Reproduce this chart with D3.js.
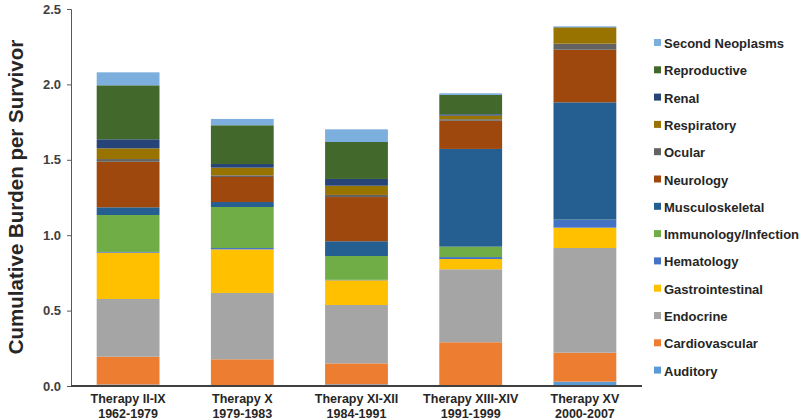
<!DOCTYPE html>
<html><head><meta charset="utf-8">
<script src="https://cdn.jsdelivr.net/npm/d3@7"></script>
<style>body{margin:0;background:#fff;} text{font-family:"Liberation Sans",Arial,sans-serif;font-weight:bold;}</style>
</head><body>
<svg id="c" width="800" height="420"></svg>
<script>
const therapies = ["Therapy II-IX|1962-1979","Therapy X|1979-1983","Therapy XI-XII|1984-1991","Therapy XIII-XIV|1991-1999","Therapy XV|2000-2007"];
const categories = ["Auditory","Cardiovascular","Endocrine","Gastrointestinal","Hematology","Immunology/Infection","Musculoskeletal","Neurology","Ocular","Respiratory","Renal","Reproductive","Second Neoplasms"];
const auditory        = [0.010, 0.003, 0.011, 0.002, 0.029];
const cardiovascular  = [0.184, 0.174, 0.139, 0.288, 0.192];
const endocrine       = [0.383, 0.440, 0.387, 0.484, 0.694];
const gastrointestinal= [0.307, 0.289, 0.164, 0.068, 0.135];
const hematology      = [0.005, 0.009, 0.003, 0.013, 0.051];
const immunology      = [0.245, 0.272, 0.158, 0.069, 0.002];
const musculoskeletal = [0.051, 0.033, 0.098, 0.648, 0.778];
const neurology       = [0.302, 0.166, 0.293, 0.187, 0.349];
const ocular          = [0.018, 0.011, 0.014, 0.010, 0.040];
const respiratory     = [0.071, 0.051, 0.061, 0.024, 0.106];
const renal           = [0.060, 0.024, 0.045, 0.009, 0.002];
const reproductive    = [0.358, 0.257, 0.245, 0.128, 0.002];
const secondNeoplasms = [0.086, 0.042, 0.084, 0.011, 0.005];
const yTicks = [0, 0.5, 1.0, 1.5, 2.0, 2.5];
const colors = ["#5B9BD5","#ED7D31","#A5A5A5","#FFC000","#4472C4","#70AD47","#255E91","#9E480E","#636363","#997300","#264478","#43682B","#7CAFDD"];

const series = [auditory,cardiovascular,endocrine,gastrointestinal,hematology,immunology,musculoskeletal,neurology,ocular,respiratory,renal,reproductive,secondNeoplasms];
const table = therapies.map((t,i)=>{const o={therapy:t};categories.forEach((c,j)=>o[c]=series[j][i]);return o;});
const stacked = d3.stack().keys(categories)(table);

const svg = d3.select("#c");
const x = d3.scaleBand().domain(therapies).range([71,642]).paddingInner(0.45).paddingOuter(0.225);
const y = d3.scaleLinear().domain([0,2.5]).range([386,9]);
const color = d3.scaleOrdinal().domain(categories).range(colors);

svg.append("g").selectAll("g").data(stacked).join("g").attr("fill",d=>color(d.key))
 .selectAll("rect").data(d=>d).join("rect")
 .attr("x",d=>x(d.data.therapy)).attr("width",x.bandwidth())
 .attr("y",d=>y(d[1])).attr("height",d=>Math.max(0,y(d[0])-y(d[1])));

// y axis
const ya = svg.append("g").attr("transform","translate(71,0)")
 .call(d3.axisLeft(y).tickValues(yTicks).tickFormat(d3.format(".1f")).tickSize(4));
ya.select(".domain").attr("stroke","#595959").attr("stroke-width",1);
ya.selectAll(".tick line").attr("stroke","#595959");
ya.selectAll("text").attr("font-size",13).attr("fill","#404040").attr("dx",-3);

// x axis
const xa = svg.append("g").attr("transform","translate(0,386)")
 .call(d3.axisBottom(x).tickSize(0).tickFormat(""));
xa.select(".domain").attr("stroke","#404040").attr("stroke-width",2).attr("d","M71,0H642");
xa.selectAll(".tick").each(function(d){
  const parts=d.split("|");
  const g=d3.select(this);
  parts.forEach((p,i)=>g.append("text").attr("y",17+i*15).attr("text-anchor","middle")
    .attr("font-size",12.5).attr("fill","#262626").text(p));
});

// y label
svg.append("text").attr("transform","translate(23,197) rotate(-90)").attr("text-anchor","middle")
 .attr("font-size",20.5).attr("fill","#262626").text("Cumulative Burden per Survivor");

// legend (reverse order)
const legendItems = categories.slice().reverse();
const lg = svg.append("g").selectAll("g").data(legendItems).join("g")
 .attr("transform",(d,i)=>`translate(654,${43+i*27.3})`);
lg.append("rect").attr("x",0).attr("y",-4).attr("width",7).attr("height",7).attr("fill",d=>color(d));
lg.append("text").attr("x",10).attr("y",5).attr("font-size",13).attr("fill","#262626").text(d=>d);
</script>
</body></html>
